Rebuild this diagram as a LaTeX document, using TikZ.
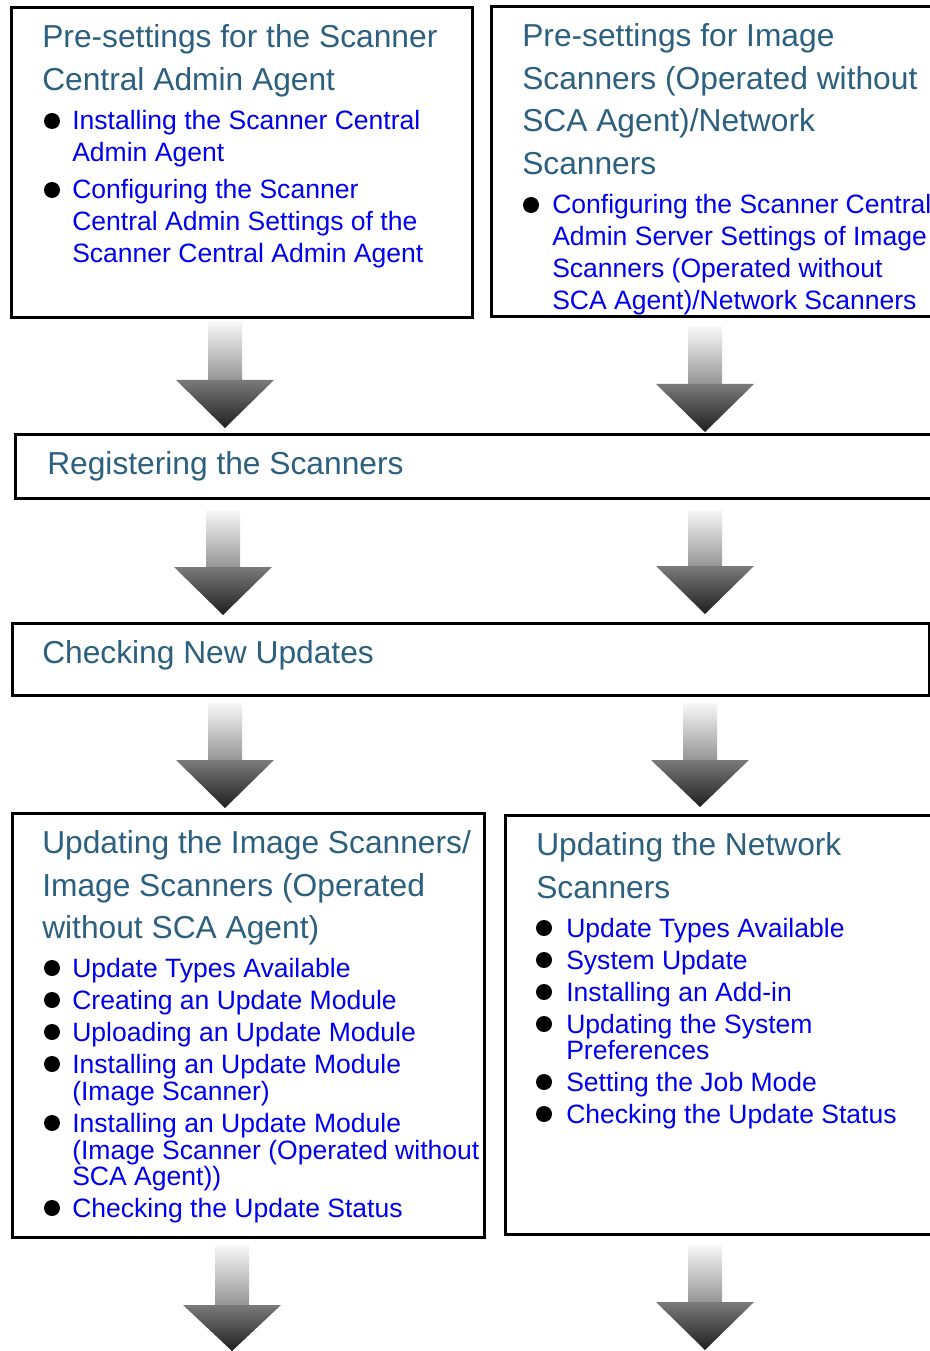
\documentclass[tikz,border=0pt]{standalone}
\usepackage{fontspec}
\setmainfont{Liberation Sans}
\usetikzlibrary{fit}
\definecolor{titlec}{RGB}{44,96,126}
\definecolor{itemc}{RGB}{0,0,240}
\newcommand\titlefont{\fontsize{23.8}{28}\selectfont}
\newcommand\itemfont{\fontsize{19.9}{24}\selectfont}
\tikzset{
  ttl/.style={anchor=base west, inner sep=0pt, text=titlec, font=\titlefont},
  itm/.style={anchor=base west, inner sep=0pt, text=itemc, font=\itemfont},
  bdot/.style={circle, fill=black, inner sep=0pt, minimum size=12pt},
  flowbox/.style={draw=black, line width=2.25pt, inner sep=0pt},
  shaftshade/.style={top color=white!97!black, bottom color=black!42, draw=none},
  headshade/.style={top color=black!52, bottom color=black!88, draw=none}
}
% #1 centre x, #2 shaft top, #3 head top, #4 tip
\newcommand\blockarrow[4]{%
  \path[shaftshade] (#1-17,#2) rectangle (#1+17,#3+1);
  \path[headshade] (#1-49,#3) -- (#1+49,#3) -- (#1,#4) -- cycle;
}
\begin{document}
\begin{tikzpicture}[x=0.75pt,y=-0.75pt]
\useasboundingbox (0,0) rectangle (930,1351);
\clip (0,0) rectangle (930,1351);
\fill[white] (0,0) rectangle (930,1351);

% boxes
\node[flowbox, fit={(11,8) (472,318)}] (b1) {};
\node[flowbox, fit={(491,7) (945,317)}] (b2) {};
\node[flowbox, fit={(15,434) (945,498)}] (reg) {};
\node[flowbox, fit={(12,623) (929,695)}] (chk) {};
\node[flowbox, fit={(12,813) (484,1237)}] (b4) {};
\node[flowbox, fit={(505,815) (945,1234)}] (b5) {};

% arrows
\blockarrow{225}{322}{380}{428}
\blockarrow{705}{327}{384}{432}
\blockarrow{223}{510}{567}{615}
\blockarrow{705}{510}{566}{614}
\blockarrow{225}{703}{760}{808}
\blockarrow{700}{703}{760}{807}
\blockarrow{232}{1245}{1305}{1351}
\blockarrow{705}{1245}{1302}{1350}

% box 1
\node[ttl] (b1t1) at (42,48) {Pre-settings for the Scanner};
\node[ttl] (b1t2) at (42,91) {Central Admin Agent};
\node[bdot] (b1d1) at (52,121) {};
\node[bdot] (b1d2) at (52,190) {};
\node[itm] (b1i1) at (72,130) {Installing the Scanner Central};
\node[itm] (b1i2) at (72,162) {Admin Agent};
\node[itm] (b1i3) at (72,199) {Configuring the Scanner};
\node[itm] (b1i4) at (72,231) {Central Admin Settings of the};
\node[itm] (b1i5) at (72,263) {Scanner Central Admin Agent};

% box 2
\node[ttl] (b2t1) at (522,47) {Pre-settings for Image};
\node[ttl] (b2t2) at (522,90) {Scanners (Operated without};
\node[ttl] (b2t3) at (522,132) {SCA Agent)/Network};
\node[ttl] (b2t4) at (522,175) {Scanners};
\node[bdot] (b2d1) at (531,205) {};
\node[itm] (b2i1) at (552,214) {Configuring the Scanner Central};
\node[itm] (b2i2) at (552,246) {Admin Server Settings of Image};
\node[itm] (b2i3) at (552,278) {Scanners (Operated without};
\node[itm] (b2i4) at (552,310) {SCA Agent)/Network Scanners};

% single-line boxes
\node[ttl] (regt) at (47,474) {Registering the Scanners};
\node[ttl] (chkt) at (42,663) {Checking New Updates};

% box 4
\node[ttl] (b4t1) at (42,853) {Updating the Image Scanners/};
\node[ttl] (b4t2) at (42,896) {Image Scanners (Operated};
\node[ttl] (b4t3) at (42,938) {without SCA Agent)};
\node[bdot] (b4d1) at (52,968) {};
\node[bdot] (b4d2) at (52,1000) {};
\node[bdot] (b4d3) at (52,1032) {};
\node[bdot] (b4d4) at (52,1064) {};
\node[bdot] (b4d5) at (52,1123) {};
\node[bdot] (b4d6) at (52,1208) {};
\node[itm] (b4i1) at (72,977) {Update Types Available};
\node[itm] (b4i2) at (72,1009) {Creating an Update Module};
\node[itm] (b4i3) at (72,1041) {Uploading an Update Module};
\node[itm] (b4i4) at (72,1073) {Installing an Update Module};
\node[itm] (b4i5) at (72,1100) {(Image Scanner)};
\node[itm] (b4i6) at (72,1132) {Installing an Update Module};
\node[itm] (b4i7) at (72,1159) {(Image Scanner (Operated without};
\node[itm] (b4i8) at (72,1185) {SCA Agent))};
\node[itm] (b4i9) at (72,1217) {Checking the Update Status};

% box 5
\node[ttl] (b5t1) at (536,855) {Updating the Network};
\node[ttl] (b5t2) at (536,898) {Scanners};
\node[bdot] (b5d1) at (544,928) {};
\node[bdot] (b5d2) at (544,960) {};
\node[bdot] (b5d3) at (544,992) {};
\node[bdot] (b5d4) at (544,1024) {};
\node[bdot] (b5d5) at (544,1082) {};
\node[bdot] (b5d6) at (544,1114) {};
\node[itm] (b5i1) at (566,937) {Update Types Available};
\node[itm] (b5i2) at (566,969) {System Update};
\node[itm] (b5i3) at (566,1001) {Installing an Add-in};
\node[itm] (b5i4) at (566,1033) {Updating the System};
\node[itm] (b5i5) at (566,1059) {Preferences};
\node[itm] (b5i6) at (566,1091) {Setting the Job Mode};
\node[itm] (b5i7) at (566,1123) {Checking the Update Status};
\end{tikzpicture}
\end{document}
